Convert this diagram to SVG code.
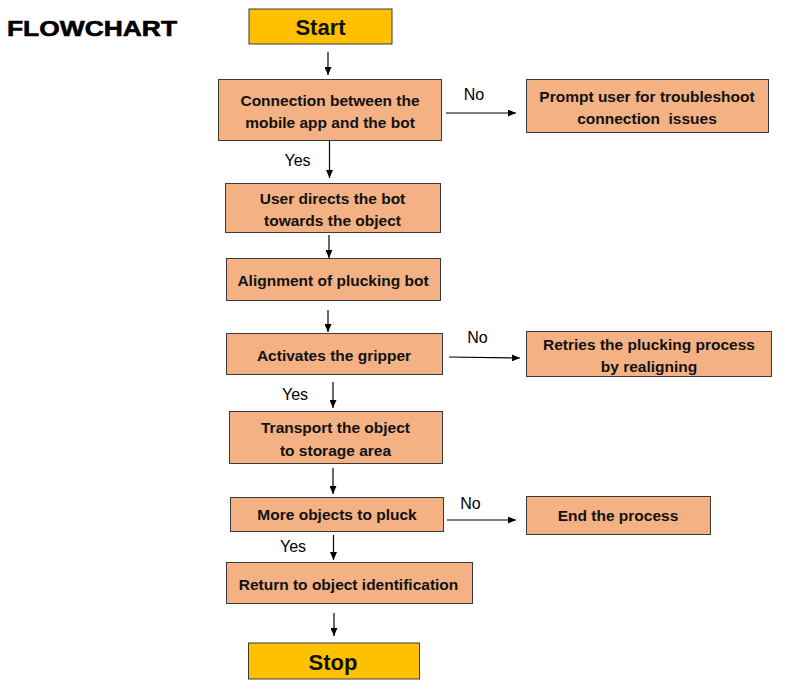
<svg xmlns="http://www.w3.org/2000/svg" width="800" height="695" viewBox="0 0 800 695">
<defs>
<marker id="ah" markerUnits="userSpaceOnUse" markerWidth="9" markerHeight="7" refX="8" refY="3.5" orient="auto">
<path d="M0,0 L8,3.5 L0,7 z" fill="#000"/>
</marker>
<style>
.box{fill:#F4B183;stroke:#3a3a3a;stroke-width:1}
.term{fill:#FFC000;stroke:#3a3a3a;stroke-width:1}
.t{font-family:"Liberation Sans",Arial,sans-serif;font-weight:bold;font-size:15.5px;fill:#111;text-anchor:middle}
.tt{font-family:"Liberation Sans",Arial,sans-serif;font-weight:bold;font-size:22px;fill:#111;text-anchor:middle}
.lbl{font-family:"Liberation Sans",Arial,sans-serif;font-size:16px;fill:#000;text-anchor:middle}
.c{stroke:#000;stroke-width:1.2;fill:none;marker-end:url(#ah)}
</style>
</defs>
<rect width="800" height="695" fill="#fff"/>
<text x="7" y="36" font-family="'Liberation Sans',Arial,sans-serif" font-weight="bold" font-size="22" textLength="170" lengthAdjust="spacingAndGlyphs" fill="#000" stroke="#000" stroke-width="0.6">FLOWCHART</text>

<g id="connectors">
<line class="c" x1="328" y1="52" x2="328" y2="75"/>
<line class="c" x1="446" y1="113" x2="516" y2="113"/>
<line class="c" x1="329.5" y1="141" x2="329.5" y2="178"/>
<line class="c" x1="329" y1="235" x2="329" y2="258"/>
<line class="c" x1="328" y1="310" x2="328" y2="332"/>
<line class="c" x1="449" y1="357" x2="520" y2="358"/>
<line class="c" x1="333" y1="382" x2="333" y2="408"/>
<line class="c" x1="333" y1="468" x2="333" y2="494"/>
<line class="c" x1="447" y1="520" x2="516" y2="520"/>
<line class="c" x1="333.5" y1="535" x2="333.5" y2="560"/>
<line class="c" x1="334" y1="613" x2="334" y2="636"/>
<text class="lbl" x="474" y="100">No</text>
<text class="lbl" x="297.5" y="166">Yes</text>
<text class="lbl" x="477.5" y="343">No</text>
<text class="lbl" x="295" y="400">Yes</text>
<text class="lbl" x="470.5" y="509">No</text>
<text class="lbl" x="293" y="552">Yes</text>
</g>

<g id="start">
<rect class="term" x="249" y="9" width="143" height="35"/>
<text class="tt" x="320.5" y="34.5">Start</text>
</g>
<g id="connection">
<rect class="box" x="218.5" y="79.5" width="223" height="61"/>
<text class="t" x="330" y="105.5">Connection between the</text>
<text class="t" x="330" y="127.5">mobile app and the bot</text>
</g>
<g id="prompt">
<rect class="box" x="526.5" y="79.5" width="242" height="53"/>
<text class="t" x="647" y="101.5">Prompt user for troubleshoot</text>
<text class="t" x="647" y="123.5">connection&#160; issues</text>
</g>
<g id="directs">
<rect class="box" x="225.5" y="183.5" width="215" height="49"/>
<text class="t" x="332.5" y="203.5">User directs the bot</text>
<text class="t" x="332.5" y="225.5">towards the object</text>
</g>
<g id="alignment">
<rect class="box" x="226.5" y="258.5" width="214" height="42"/>
<text class="t" x="333" y="285.5">Alignment of plucking bot</text>
</g>
<g id="gripper">
<rect class="box" x="226.5" y="333.5" width="216" height="41"/>
<text class="t" x="334" y="360.5">Activates the gripper</text>
</g>
<g id="retries">
<rect class="box" x="526.5" y="331.5" width="245" height="45"/>
<text class="t" x="649" y="349.5">Retries the plucking process</text>
<text class="t" x="649" y="372">by realigning</text>
</g>
<g id="transport">
<rect class="box" x="229.5" y="411.5" width="213" height="52"/>
<text class="t" x="335.5" y="433">Transport the object</text>
<text class="t" x="335.5" y="456">to storage area</text>
</g>
<g id="more">
<rect class="box" x="230.5" y="497.5" width="213" height="34"/>
<text class="t" x="337" y="519.5">More objects to pluck</text>
</g>
<g id="end">
<rect class="box" x="526.5" y="496.5" width="184" height="38"/>
<text class="t" x="618" y="521">End the process</text>
</g>
<g id="return">
<rect class="box" x="226.5" y="562.5" width="246" height="41"/>
<text class="t" x="348.5" y="589.5">Return to object identification</text>
</g>
<g id="stop">
<rect class="term" x="248.5" y="643" width="171" height="36"/>
<text class="tt" x="333" y="669.5">Stop</text>
</g>
</svg>
